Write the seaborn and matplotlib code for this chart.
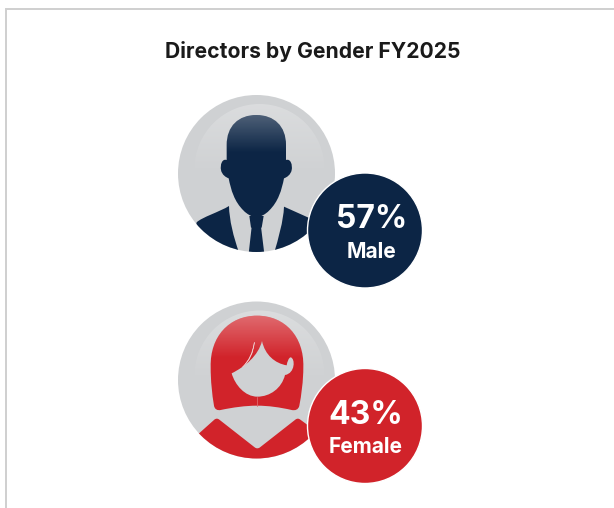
import numpy as np
import pandas as pd
import matplotlib
matplotlib.use("Agg")
import matplotlib.pyplot as plt
import seaborn as sns
from matplotlib.path import Path
from matplotlib.patches import PathPatch, Circle

genders = ['Male', 'Female']
shares = [57, 43]
colors = ['#0c2545', '#d1232a']
title = 'Directors by Gender FY2025'

sns.set_theme(style='white')
plt.rcParams['font.family'] = ['Inter', 'DejaVu Sans']

DPI = 100
fig = plt.figure(figsize=(6.14, 5.08), dpi=DPI)
ax = fig.add_axes([0, 0, 1, 1])

GREY = '#cfd1d3'
big_x = 256.5
big_y = [173.5, 380]
big_r = 78.5
badge_x = 365
badge_y = [230.5, 426]
badge_r = 57.5

# path helper: M/L/C commands written in the coordinates of the zoom crops
def shape(cmds, ox, oy):
    verts, codes = [], []
    for c in cmds:
        if c[0] == 'M':
            verts.append(c[1]); codes.append(Path.MOVETO)
        elif c[0] == 'L':
            verts.append(c[1]); codes.append(Path.LINETO)
        else:
            verts += [c[1], c[2], c[3]]; codes += [Path.CURVE4] * 3
    verts = [(ox + x / 3, oy + y / 3) for x, y in verts]
    return Path(verts, codes)

def fill(path, color, clip, z, lw=0):
    p = PathPatch(path, facecolor=color, edgecolor=color, lw=lw, zorder=z)
    ax.add_patch(p)
    if clip is not None:
        p.set_clip_path(clip)
    return p

# white fading to nothing going down, clipped to a patch
def shine(patch, y0, y1, x0, x1, a0, z):
    g = np.linspace(a0, 0, 64).reshape(-1, 1)
    rgba = np.ones((64, 1, 4))
    rgba[..., 3] = g
    im = ax.imshow(rgba, extent=(x0, x1, y1, y0), aspect='auto', zorder=z,
                   interpolation='bilinear')
    im.set_clip_path(patch)

# grey discs with the soft highlight on top
discs = []
for cy in big_y:
    d = Circle((big_x, cy), big_r, facecolor=GREY, edgecolor='none', zorder=1)
    ax.add_patch(d)
    discs.append(d)
    halo = Circle((big_x + 3, cy - 4.5), 65, facecolor='none', edgecolor='none', zorder=2)
    ax.add_patch(halo)
    shine(halo, cy - 70, cy + 2, big_x - 70, big_x + 70, 0.25, 2)

# man
ox, oy = 170, 90
head = shape([
    ('M', (259, 75)),
    ('C', (312, 75), (348, 108), (348, 165)),
    ('L', (348, 210)),
    ('C', (362, 205), (368, 225), (365, 240)),
    ('C', (362, 255), (350, 262), (342, 265)),
    ('C', (335, 300), (325, 335), (297, 362)),
    ('C', (288, 372), (270, 382), (259, 382)),
    ('C', (248, 382), (230, 372), (221, 362)),
    ('C', (193, 335), (183, 300), (176, 265)),
    ('C', (168, 262), (156, 255), (153, 240)),
    ('C', (150, 225), (156, 205), (170, 210)),
    ('L', (170, 165)),
    ('C', (170, 108), (206, 75), (259, 75)),
], ox, oy)
head_patch = fill(head, colors[0], None, 3)
shine(head_patch, oy + 75 / 3, oy + 188 / 3, ox + 150 / 3, ox + 370 / 3, 0.27, 4)
fill(shape([('M', (238, 378)), ('L', (281, 378)), ('L', (275, 413)), ('L', (243, 413)), ('L', (238, 378))], ox, oy),
     colors[0], None, 3)
fill(shape([('M', (245, 410)), ('L', (273, 410)), ('L', (284, 500)), ('L', (235, 500)), ('L', (245, 410))], ox, oy),
     colors[0], discs[0], 3)
fill(shape([('M', (80, 397)), ('C', (95, 382), (150, 365), (177, 348)),
            ('C', (178, 390), (190, 440), (208, 490)), ('L', (150, 510)), ('L', (60, 480)), ('L', (80, 397))], ox, oy),
     colors[0], discs[0], 3)
fill(shape([('M', (342, 350)), ('L', (420, 385)), ('L', (440, 510)), ('L', (312, 490)),
            ('C', (325, 445), (340, 395), (342, 350))], ox, oy),
     colors[0], discs[0], 3)

# woman
ox, oy = 170, 295
hair = shape([
    ('M', (261, 62)),
    ('C', (345, 62), (402, 125), (400, 215)),
    ('C', (400, 260), (394, 300), (388, 332)),
    ('C', (385, 345), (375, 347), (365, 345)),
    ('C', (330, 337), (295, 332), (261, 332)),
    ('C', (227, 332), (190, 337), (152, 345)),
    ('C', (142, 347), (134, 343), (132, 332)),
    ('C', (126, 295), (122, 260), (122, 215)),
    ('C', (120, 125), (177, 62), (261, 62)),
], ox, oy)
hair_patch = fill(hair, colors[1], None, 3)
shine(hair_patch, oy + 62 / 3, oy + 190 / 3, ox + 110 / 3, ox + 410 / 3, 0.33, 4)
face = shape([
    ('M', (185, 235)),
    ('C', (225, 215), (265, 182), (276, 138)),
    ('C', (285, 180), (315, 205), (350, 211)),
    ('C', (352, 200), (356, 188), (362, 187)),
    ('C', (376, 190), (376, 235), (345, 240)),
    ('C', (335, 280), (300, 305), (262, 305)),
    ('C', (225, 305), (195, 270), (185, 235)),
], ox, oy)
fill(face, GREY, None, 5)
sliver = shape([('M', (253, 142)), ('C', (248, 175), (236, 197), (218, 216)),
                ('C', (240, 197), (250, 172), (253, 142))], ox, oy)
fill(sliver, '#ecc7c9', None, 5, lw=0.4)
ax.plot([ox + 262 / 3, ox + 262 / 3], [oy + 305 / 3, oy + 332 / 3], color='#e0686c', lw=0.6, zorder=5)
body = shape([
    ('M', (85, 417)),
    ('L', (133, 374)),
    ('C', (138, 370), (143, 370), (148, 374)),
    ('L', (254, 457)),
    ('C', (259, 461), (265, 461), (270, 457)),
    ('L', (376, 374)),
    ('C', (381, 370), (386, 370), (391, 374)),
    ('L', (440, 410)),
    ('L', (440, 510)),
    ('L', (60, 510)),
    ('L', (85, 417)),
], ox, oy)
fill(body, colors[1], discs[1], 3)

# badges
badges = pd.DataFrame({'gender': genders, 'x': badge_x, 'y': badge_y})
dia_pt = 2 * badge_r * 72 / DPI
sns.scatterplot(data=badges, x='x', y='y', hue='gender', hue_order=genders, palette=colors,
                s=dia_pt ** 2, edgecolor='white', linewidth=1.0, legend=False, ax=ax, zorder=6)

pct_pos = [(371.5, 219), (366, 415)]
lab_pos = [(371.5, 252), (366, 447)]
for g, s, p, l in zip(genders, shares, pct_pos, lab_pos):
    ax.text(p[0], p[1], f'{s}%', color='white', fontsize=23, fontweight='bold',
            ha='center', va='center', zorder=7)
    ax.text(l[0], l[1], g, color='white', fontsize=15, fontweight='bold',
            ha='center', va='center', zorder=7)

ax.text(312.5, 51.5, title, color='#1a1a1a', fontsize=15.2, fontweight='bold',
        ha='center', va='center')

# card border
ax.plot([6, 6, 614], [508, 9, 9], color='#cfcfcf', lw=1.4, solid_joinstyle='miter')

ax.set_xlim(0, 614)
ax.set_ylim(508, 0)
ax.axis('off')
fig.savefig('out.png', dpi=DPI)
